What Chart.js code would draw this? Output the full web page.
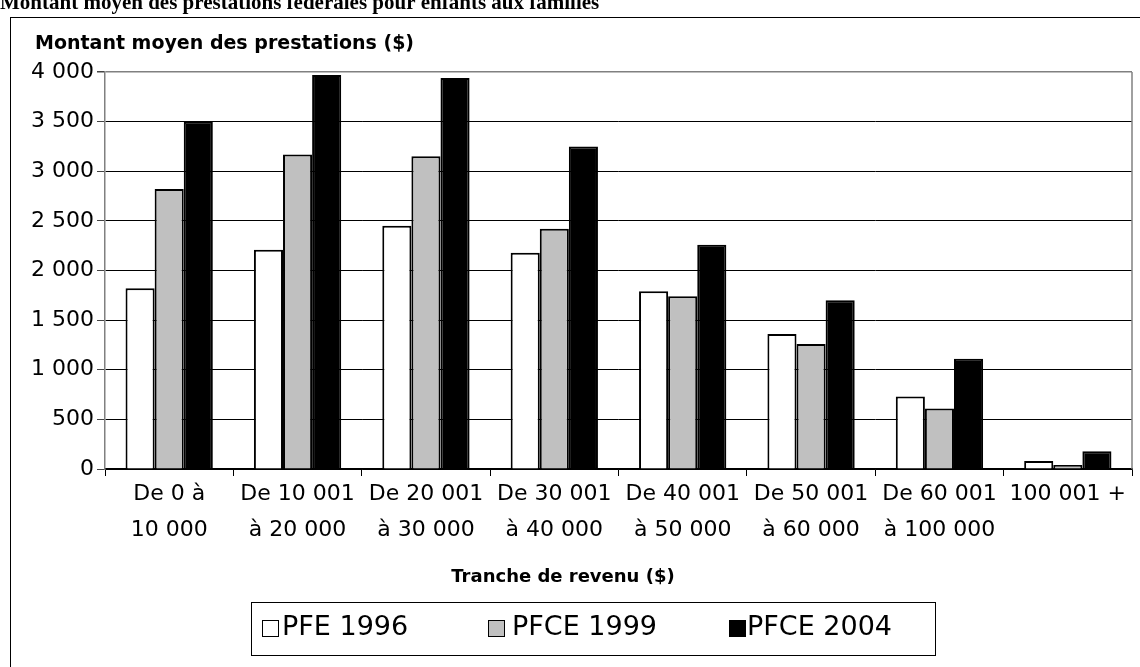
<!DOCTYPE html>
<html lang="fr">
<head>
<meta charset="utf-8">
<title>Montant moyen des prestations</title>
<script src="https://cdn.jsdelivr.net/npm/chart.js@4/dist/chart.umd.min.js"></script>
<style>
  body { margin: 0; background: #fff; }
  #graphique { display: block; }
</style>
</head>
<body>
<canvas id="graphique" width="1140" height="667"></canvas>
<script>
// tranches de revenu (deux lignes par etiquette)
var tranches = [
  ['De 0 à', '10 000'],
  ['De 10 001', 'à 20 000'],
  ['De 20 001', 'à 30 000'],
  ['De 30 001', 'à 40 000'],
  ['De 40 001', 'à 50 000'],
  ['De 50 001', 'à 60 000'],
  ['De 60 001', 'à 100 000'],
  ['100 001 +']
];
var pfe1996  = [1820, 2210, 2450, 2180, 1790, 1360, 730, 80];
var pfce1999 = [2820, 3170, 3150, 2420, 1740, 1260, 610, 40];
var pfce2004 = [3500, 3970, 3940, 3250, 2260, 1700, 1110, 180];
var nomsSeries = ['PFE 1996', 'PFCE 1999', 'PFCE 2004'];
var couleurs = ['#ffffff', '#c0c0c0', '#000000'];
var yMax = 4000;
var yPas = 500;

var police = 'DejaVu Sans, Arial, sans-serif';

function espaceMilliers(v) {
  return String(v).replace(/\B(?=(\d{3})+(?!\d))/g, ' ');
}

//-----------------------------------------------
// cadre, titres et legende dessines autour du graphique
var cadre = {
  id: 'cadre',
  beforeDraw: function(chart) {
    var c = chart.ctx;
    c.save();
    c.fillStyle = '#fff';
    c.fillRect(0, 0, chart.width, chart.height);
    // titre coupe en haut de la page
    c.fillStyle = '#000';
    c.font = 'bold 21px "Liberation Serif", "Times New Roman", serif';
    c.textBaseline = 'alphabetic';
    c.textAlign = 'left';
    c.fillText('Montant moyen des prestations fédérales pour enfants aux familles', 0, 9);
    // bordure exterieure
    c.strokeStyle = '#000';
    c.lineWidth = 1;
    c.strokeRect(10.5, 17.5, chart.width + 10, chart.height + 10);
    c.restore();
  },
  afterDraw: function(chart) {
    var c = chart.ctx;
    var a = chart.chartArea;
    c.save();
    // bord droit de la zone de tracage
    c.strokeStyle = '#808080';
    c.lineWidth = 1.5;
    c.beginPath();
    c.moveTo(a.right, a.top);
    c.lineTo(a.right, a.bottom);
    c.stroke();

    c.fillStyle = '#000';
    c.textBaseline = 'middle';
    c.textAlign = 'left';
    c.font = 'bold 19px ' + police;
    c.fillText('Montant moyen des prestations ($)', 35, 44);
    c.textAlign = 'center';
    c.font = 'bold 18px ' + police;
    c.fillText('Tranche de revenu ($)', 563, 577);

    // legende
    c.strokeStyle = '#000';
    c.lineWidth = 1;
    c.strokeRect(251.5, 602.5, 684, 53);
    var xs = [262, 488, 729];
    var gaps = [4, 8, 2];
    c.font = '27px ' + police;
    c.textAlign = 'left';
    for (var i = 0; i < nomsSeries.length; i++) {
      c.fillStyle = couleurs[i];
      c.fillRect(xs[i], 620, 16, 16);
      c.strokeRect(xs[i] + 0.5, 620.5, 16, 16);
      c.fillStyle = '#000';
      c.fillText(nomsSeries[i], xs[i] + 16 + gaps[i], 628);
    }
    c.restore();
  }
};

var serie = function(nom, valeurs, couleur) {
  return {
    label: nom,
    data: valeurs,
    backgroundColor: couleur,
    borderColor: '#000',
    borderWidth: 2,
    borderSkipped: 'bottom',
    categoryPercentage: 0.68,
    barPercentage: 1.0
  };
};

var ctx = document.getElementById('graphique').getContext('2d');
var graphique = new Chart(ctx, {
  type: 'bar',
  data: {
    labels: tranches,
    datasets: [
      serie(nomsSeries[0], pfe1996, couleurs[0]),
      serie(nomsSeries[1], pfce1999, couleurs[1]),
      serie(nomsSeries[2], pfce2004, couleurs[2])
    ]
  },
  options: {
    responsive: false,
    animation: false,
    layout: { padding: { top: 72, right: 8, left: 0, bottom: 0 } },
    plugins: {
      legend: { display: false },
      title: { display: false },
      tooltip: { enabled: false }
    },
    scales: {
      x: {
        offset: true,
        grid: {
          offset: true,
          drawOnChartArea: false,
          drawTicks: true,
          tickLength: 7,
          color: '#000'
        },
        border: { color: '#000', width: 1.5 },
        ticks: {
          color: '#000',
          font: { family: police, size: 22, lineHeight: 1.65 },
          maxRotation: 0,
          autoSkip: false,
          padding: 0
        },
        afterFit: function(scale) { scale.height = 198; }
      },
      y: {
        min: 0,
        max: yMax,
        grid: {
          color: function(c) { return c.tick && c.tick.value === yMax ? '#808080' : '#000'; },
          lineWidth: function(c) { return c.tick && c.tick.value === yMax ? 1.5 : 1; },
          tickColor: '#444',
          tickLength: 8
        },
        border: { color: '#808080', width: 1.5 },
        ticks: {
          stepSize: yPas,
          color: '#000',
          padding: 3,
          font: { family: police, size: 22 },
          callback: function(v) { return espaceMilliers(v); }
        },
        afterFit: function(scale) { scale.width = 105; }
      }
    }
  },
  plugins: [cadre]
});
</script>
</body>
</html>
